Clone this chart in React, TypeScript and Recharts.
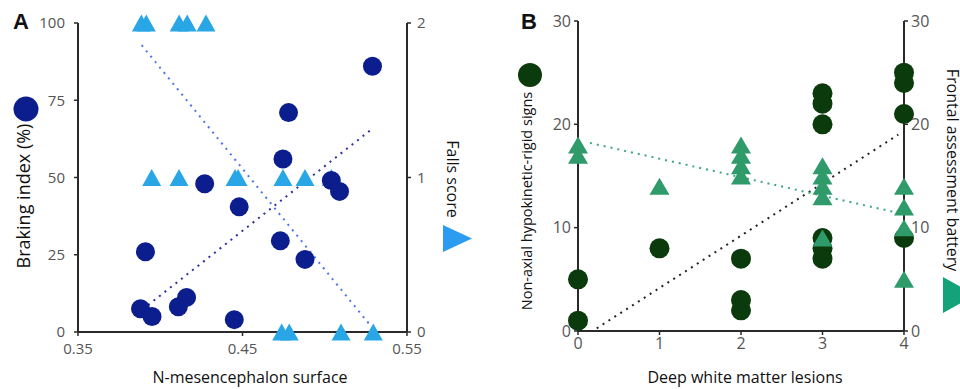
import React from "react";
import { ScatterChart, Scatter, XAxis, YAxis, ReferenceLine } from "recharts";

// ---------- Panel A data ----------
const brakingIndex = [
  { x: 0.529, y: 86 }, { x: 0.478, y: 71 }, { x: 0.4746, y: 56 }, { x: 0.427, y: 48 },
  { x: 0.504, y: 49 }, { x: 0.509, y: 45.5 }, { x: 0.448, y: 40.5 }, { x: 0.473, y: 29.5 },
  { x: 0.488, y: 23.5 }, { x: 0.391, y: 26 }, { x: 0.388, y: 7.5 }, { x: 0.395, y: 5 },
  { x: 0.411, y: 8.2 }, { x: 0.416, y: 11.2 }, { x: 0.445, y: 4 },
];
const fallsScore = [
  { x: 0.3885, y: 2 }, { x: 0.3915, y: 2 }, { x: 0.4115, y: 2 }, { x: 0.4164, y: 2 }, { x: 0.4278, y: 2 },
  { x: 0.3948, y: 1 }, { x: 0.4114, y: 1 }, { x: 0.4455, y: 1 }, { x: 0.4473, y: 1 }, { x: 0.4746, y: 1 },
  { x: 0.488, y: 1 }, { x: 0.504, y: 1 },
  { x: 0.4738, y: 0 }, { x: 0.4784, y: 0 }, { x: 0.5099, y: 0 }, { x: 0.5295, y: 0 },
];
const trendBraking = [{ x: 0.3926, y: 8.7 }, { x: 0.528, y: 65.4 }];
const trendFalls = [{ x: 0.3887, y: 1.857 }, { x: 0.529, y: 0.026 }];
const ticksAX = [0.35, 0.45, 0.55];
const ticksALeft = [0, 25, 50, 75, 100];
const ticksARight = [0, 1, 2];

// ---------- Panel B data ----------
const hypokineticSigns = [
  { x: 0, y: 5 }, { x: 0, y: 1 },
  { x: 1, y: 8 },
  { x: 2, y: 7 }, { x: 2, y: 3 }, { x: 2, y: 2 },
  { x: 3, y: 23 }, { x: 3, y: 22 }, { x: 3, y: 20 }, { x: 3, y: 9 }, { x: 3, y: 8 }, { x: 3, y: 7 },
  { x: 4, y: 25 }, { x: 4, y: 24 }, { x: 4, y: 21 }, { x: 4, y: 9 },
];
const frontalBattery = [
  { x: 0, y: 18 }, { x: 0, y: 17 },
  { x: 1, y: 14 },
  { x: 2, y: 18 }, { x: 2, y: 17 }, { x: 2, y: 16 }, { x: 2, y: 15 },
  { x: 3, y: 16 }, { x: 3, y: 15 }, { x: 3, y: 14 }, { x: 3, y: 13 }, { x: 3, y: 9 },
  { x: 4, y: 14 }, { x: 4, y: 12 }, { x: 4, y: 10 }, { x: 4, y: 5 },
];
const trendSigns = [{ x: 0.23, y: 0.26 }, { x: 3.93, y: 19.0 }];
const trendFrontal = [{ x: 0.147, y: 18.2 }, { x: 4.0, y: 11.3 }];
const ticksBX = [0, 1, 2, 3, 4];
const ticksBY = [0, 10, 20, 30];

// ---------- styles ----------
const AXIS = "#2a2a2a";
const FONT = "Open Sans";
const TICK_A = { fill: "#555", fontSize: 15, fontFamily: FONT };
const TICK_B = { fill: "#555", fontSize: 16, fontFamily: FONT };

const circleShape = (color: string, r: number) => (p: any) =>
  <circle cx={p.cx} cy={p.cy} r={r} fill={color} />;
const triShape = (color: string, w: number, h: number) => (p: any) =>
  <path d={`M${p.cx},${p.cy - h / 2} L${p.cx + w / 2},${p.cy + h / 2} L${p.cx - w / 2},${p.cy + h / 2} Z`} fill={color} />;

const axisCommon = {
  axisLine: { stroke: AXIS, strokeWidth: 2 },
  tickLine: { stroke: AXIS, strokeWidth: 1.5 },
  tickSize: 4,
};

function Txt({ x, y, rot, size, children, bold, color }: any) {
  return (
    <div
      style={{
        position: "absolute", left: x, top: y, whiteSpace: "nowrap",
        transform: `translate(-50%, -50%) rotate(${rot || 0}deg)`,
        fontFamily: bold ? "Liberation Sans" : FONT, fontWeight: bold ? 700 : 400,
        fontSize: size, color: color || "#111", lineHeight: 1,
      }}
    >
      {children}
    </div>
  );
}

function PanelA() {
  return (
    <ScatterChart width={480} height={389} margin={{ top: 23, right: 33, bottom: 27, left: 28 }}>
      <XAxis type="number" dataKey="x" domain={[0.35, 0.55]} ticks={ticksAX} height={30}
        tickFormatter={(v: number) => v.toFixed(2)} tickMargin={7} tick={TICK_A} {...axisCommon} />
      <YAxis yAxisId="l" type="number" dataKey="y" domain={[0, 100]} ticks={ticksALeft} width={50}
        tickMargin={9} tick={TICK_A} {...axisCommon} />
      <YAxis yAxisId="r" orientation="right" type="number" dataKey="y" domain={[0, 2]} ticks={ticksARight}
        width={40} tickMargin={6} tick={TICK_A} {...axisCommon} />
      <Scatter yAxisId="r" data={fallsScore} shape={triShape("#29a6e6", 19, 17)} isAnimationActive={false} />
      <Scatter yAxisId="l" data={brakingIndex} shape={circleShape("#0c1d8e", 9.5)} isAnimationActive={false} />
      <ReferenceLine yAxisId="l" segment={trendBraking} stroke="#2d2fa0" strokeWidth={2}
        strokeDasharray="2 5" ifOverflow="visible" />
      <ReferenceLine yAxisId="r" segment={trendFalls} stroke="#4f72e8" strokeWidth={2}
        strokeDasharray="2 5" ifOverflow="visible" />
    </ScatterChart>
  );
}

function PanelB() {
  return (
    <ScatterChart width={480} height={389} margin={{ top: 21, right: 16, bottom: 28, left: 48 }}>
      <XAxis type="number" dataKey="x" domain={[0, 4]} ticks={ticksBX} height={30}
        tickMargin={3} tick={TICK_B} {...axisCommon} />
      <YAxis yAxisId="l" type="number" dataKey="y" domain={[0, 30]} ticks={ticksBY} width={50}
        tickMargin={3} tick={TICK_B} {...axisCommon} />
      <YAxis yAxisId="r" orientation="right" type="number" dataKey="y" domain={[0, 30]} ticks={ticksBY}
        width={40} tickMargin={3} tick={TICK_B} {...axisCommon} />
      <Scatter yAxisId="l" data={hypokineticSigns} shape={circleShape("#0b3a0c", 10)} isAnimationActive={false} />
      <Scatter yAxisId="r" data={frontalBattery} shape={triShape("#2f9a6a", 20, 17)} isAnimationActive={false} />
      <ReferenceLine yAxisId="l" segment={trendSigns} stroke="#222" strokeWidth={2}
        strokeDasharray="2 5" ifOverflow="visible" />
      <ReferenceLine yAxisId="r" segment={trendFrontal} stroke="#3aa77c" strokeWidth={2}
        strokeDasharray="2 5" ifOverflow="visible" />
    </ScatterChart>
  );
}

export default function App() {
  return (
    <div style={{ position: "absolute", left: 0, top: 0, width: 960, height: 389, overflow: "hidden", background: "#fff" }}>
      <div style={{ position: "absolute", left: 0, top: 0 }}><PanelA /></div>
      <div style={{ position: "absolute", left: 480, top: 0 }}><PanelB /></div>

      <Txt x={21} y={22} size={22} bold>A</Txt>
      <Txt x={529} y={22} size={22} bold>B</Txt>

      <Txt x={250} y={377} size={16}>N-mesencephalon surface</Txt>
      <Txt x={745} y={377} size={16}>Deep white matter lesions</Txt>

      <Txt x={23} y={196} size={18} rot={-90}>Braking index (%)</Txt>
      <Txt x={453} y={179} size={16} rot={90}>Falls score</Txt>
      <Txt x={527} y={201} size={14.5} rot={-90}>Non-axial hypokinetic-rigid signs</Txt>
      <Txt x={953} y={170} size={16} rot={90}>Frontal assessment battery</Txt>

      <svg width={960} height={389} style={{ position: "absolute", left: 0, top: 0, pointerEvents: "none" }}>
        <circle cx={26} cy={109} r={12.5} fill="#0c1d8e" />
        <path d="M443,225 L472,238.5 L443,252 Z" fill="#2c9cf0" />
        <circle cx={530} cy={75} r={12} fill="#0b3a0c" />
        <path d="M943,277 L975,295 L943,313 Z" fill="#14a27a" />
      </svg>
    </div>
  );
}
